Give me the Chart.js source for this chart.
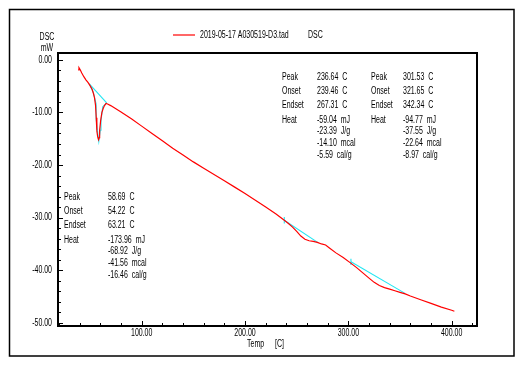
<!DOCTYPE html>
<html><head><meta charset="utf-8">
<script src="https://cdn.jsdelivr.net/npm/chart.js@4/dist/chart.umd.min.js"></script>
<style>html,body{margin:0;padding:0;background:#fff;}canvas{display:block;}</style>
</head><body>
<canvas id="c" width="525" height="365"></canvas>
<script>
// ---- data ----
const tempC = [38.5,39.3,40.5,42,44,46,48,50,52,53.3,54.3,55.3,56.0,56.6,57.4,58.2,58.9,59.3,60.3,61.5,62.8,64.0,65.5,67.0,70,80,90,100,110,120,130,140,150,160,170,180,190,200,210,220,230,238,242,246,250,254,258,262,266,270,274,278,282,288,295,302,308,314,320,325,330,335,340,345,350,355,360,370,380,390,400,402.6];
const dscMW = [-1.9,-1.5,-1.9,-2.5,-3.2,-3.8,-4.3,-4.9,-5.6,-6.4,-7.2,-8.6,-11.0,-13.5,-14.6,-15.2,-14.8,-13.4,-11.5,-10.0,-9.2,-8.7,-8.3,-8.4,-8.7,-9.9,-11.2,-12.6,-14.0,-15.4,-16.8,-18.1,-19.4,-20.6,-21.8,-23.0,-24.2,-25.4,-26.7,-28.0,-29.3,-30.5,-31.1,-31.8,-32.6,-33.5,-34.1,-34.4,-34.5,-34.7,-35.0,-35.2,-35.8,-36.7,-37.6,-38.6,-39.5,-40.5,-41.5,-42.3,-42.9,-43.3,-43.6,-43.9,-44.2,-44.5,-44.9,-45.6,-46.3,-47.0,-47.6,-47.8];
// analysis (cyan) lines
const peak1OutlineT = [49.3,53.2,55.9,55.9,57.5,58.5,59.9,60.6,62.3,66.1];
const peak1OutlineV = [-4.55,-6.2,-8.4,-11.2,-14.0,-15.5,-13.4,-11.6,-8.9,-8.2];
const base1T = [49.3,66.1];  const base1V = [-4.55,-8.2];
const base2T = [238,271];    const base2V = [-30.5,-34.8];
const base3T = [302.5,354.9];const base3V = [-38.4,-44.4];
const mark2T = [238,238];    const mark2V = [-29.9,-31.1];
const mark3T = [302.5,302.5];const mark3V = [-37.8,-39.0];
const xTicks = [100,200,300,400];
const yTicks = [0,-10,-20,-30,-40,-50];
const legendLabel = "2019-05-17 A030519-D3.tad";
const legendSignal = "DSC";
const block1 = [["Peak","58.69  C"],["Onset","54.22  C"],["Endset","63.21  C"],["Heat","-173.96  mJ"],["","-68.92  J/g"],["","-41.56  mcal"],["","-16.46  cal/g"]];
const block2 = [["Peak","236.64  C"],["Onset","239.46  C"],["Endset","267.31  C"],["Heat","-59.04  mJ"],["","-23.39  J/g"],["","-14.10  mcal"],["","-5.59  cal/g"]];
const block3 = [["Peak","301.53  C"],["Onset","321.65  C"],["Endset","342.34  C"],["Heat","-94.77  mJ"],["","-37.55  J/g"],["","-22.64  mcal"],["","-8.97  cal/g"]];

const FONT = '"Liberation Sans",Arial,sans-serif';
const SX = 0.7;
const RED = '#ff0000', CYAN = '#22e6f2';
const pts = (a,b) => a.map((t,i)=>({x:t,y:b[i]}));
const line = (data,color,w) => ({data,borderColor:color,borderWidth:w,pointRadius:0,fill:false,tension:0});

function txt(ctx,s,x,y,align){
  ctx.save();
  ctx.translate(x,y); ctx.scale(SX,1);
  ctx.textAlign=align||'left';
  ctx.fillText(s,0,0);
  ctx.restore();
}

const decor = {
  id:'decor',
  afterDraw(chart){
    const ctx = chart.ctx, a = chart.chartArea, xs = chart.scales.x, ys = chart.scales.y;
    ctx.save();
    ctx.strokeStyle='#000'; ctx.lineWidth=1.5;
    ctx.strokeRect(9.5,9.5,504.5,346.5);
    ctx.lineWidth=2;
    ctx.strokeRect(a.left,a.top,a.right-a.left,a.bottom-a.top);
    ctx.lineWidth=1;
    ctx.beginPath();
    for(let v=20; v<=420; v+=20){
      const px = Math.round(xs.getPixelForValue(v))+0.5;
      const len = (v%100===0)?5:3;
      ctx.moveTo(px,a.bottom); ctx.lineTo(px,a.bottom-len);
    }
    for(let v=0; v>=-50; v-=2){
      const py = Math.round(ys.getPixelForValue(v))+0.5;
      const len = (v%10===0)?5:3;
      ctx.moveTo(a.left,py); ctx.lineTo(a.left+len,py);
    }
    ctx.stroke();
    ctx.fillStyle='#000';
    ctx.font='10px '+FONT;
    ctx.textBaseline='middle';
    xs.ticks.forEach(t=>txt(ctx,Number(t.value).toFixed(2),xs.getPixelForValue(t.value),333,'center'));
    ys.ticks.forEach(t=>txt(ctx,Number(t.value).toFixed(2),52,ys.getPixelForValue(t.value),'right'));
    txt(ctx,'DSC',47,37,'center');
    txt(ctx,'mW',47,48,'center');
    txt(ctx,'Temp',247,344);
    txt(ctx,'[C]',275,344);
    ctx.strokeStyle=RED; ctx.lineWidth=1.2;
    ctx.beginPath(); ctx.moveTo(173,35); ctx.lineTo(195,35); ctx.stroke();
    txt(ctx,legendLabel,200,35);
    txt(ctx,legendSignal,308,35);
    const drawBlock=(rows,x1,x2,y0)=>{
      const gaps=[0,14,28,43,54,66,78];
      rows.forEach((r,i)=>{ if(r[0]) txt(ctx,r[0],x1,y0+gaps[i]); txt(ctx,r[1],x2,y0+gaps[i]); });
    };
    drawBlock(block1,64,108,197);
    drawBlock(block2,282,317,77);
    drawBlock(block3,371,403,77);
    ctx.restore();
  }
};

new Chart(document.getElementById('c'),{
  type:'line',
  data:{datasets:[
    line(pts(tempC,dscMW),RED,1.2),
    line(pts(peak1OutlineT,peak1OutlineV),CYAN,1.1),
    line(pts(base1T,base1V),CYAN,1.1),
    line(pts(base2T,base2V),CYAN,1.1),
    line(pts(base3T,base3V),CYAN,1.1),
    line(pts(mark2T,mark2V),CYAN,1.1),
    line(pts(mark3T,mark3V),CYAN,1.1)
  ]},
  options:{
    responsive:false, animation:false,
    layout:{padding:{left:0,top:53,right:48,bottom:0}},
    plugins:{legend:{display:false},tooltip:{enabled:false}},
    scales:{
      x:{type:'linear',min:19,max:424.5,
        grid:{display:false,drawTicks:false},border:{display:false},
        afterBuildTicks:s=>{s.ticks=xTicks.map(v=>({value:v}));},
        afterFit:s=>{s.height=39;},
        ticks:{display:false}},
      y:{type:'linear',min:-50.6,max:1.3,
        grid:{display:false,drawTicks:false},border:{display:false},
        afterBuildTicks:s=>{s.ticks=yTicks.map(v=>({value:v}));},
        afterFit:s=>{s.width=58;},
        ticks:{display:false}}
    }
  },
  plugins:[decor]
});
</script>
</body></html>
